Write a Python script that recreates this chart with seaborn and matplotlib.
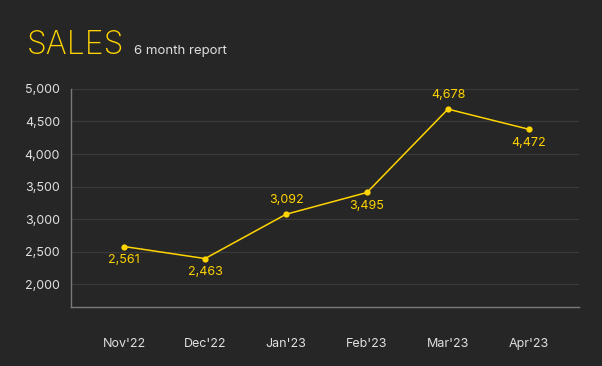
import matplotlib
matplotlib.use("Agg")
import matplotlib.pyplot as plt
import seaborn as sns
import pandas as pd
from matplotlib.ticker import FuncFormatter

# data
months = ["Nov'22", "Dec'22", "Jan'23", "Feb'23", "Mar'23", "Apr'23"]
sales = [2580, 2395, 3075, 3410, 4690, 4380]
point_labels = ["2,561", "2,463", "3,092", "3,495", "4,678", "4,472"]
label_above = [False, False, True, False, True, False]
y_ticks = [2000, 2500, 3000, 3500, 4000, 4500, 5000]

BG = "#262626"
YELLOW = "#FFD400"
TEXT = "#E0E0E0"
GRID = "#3A3A3A"

sns.set_theme(style="dark")
plt.rcParams["font.family"] = ["Inter", "DejaVu Sans"]

df = pd.DataFrame({"month": months, "sales": sales})

fig = plt.figure(figsize=(6.02, 3.66), dpi=100, facecolor=BG)
ax = fig.add_axes([0.118, 0.161, 0.844, 0.596])
ax.set_facecolor(BG)

sns.lineplot(data=df, x="month", y="sales", ax=ax, color=YELLOW, linewidth=1.1,
             marker="o", markersize=4.5, markeredgewidth=0, sort=False)

for i, (v, txt, up) in enumerate(zip(sales, point_labels, label_above)):
    ax.annotate(txt, (i, v), xytext=(0, 10 if up else -10), textcoords="offset points",
                ha="center", va="center", color=YELLOW, fontsize=9)

ax.set_xlim(-0.655, 5.62)
ax.set_ylim(1650, 5000)
ax.set_yticks(y_ticks)
ax.yaxis.set_major_formatter(FuncFormatter(lambda v, p: f"{int(v):,}"))
ax.grid(axis="y", color=GRID, linewidth=0.9)
ax.grid(axis="x", visible=False)
ax.set_xlabel("")
ax.set_ylabel("")

for side in ["top", "right"]:
    ax.spines[side].set_visible(False)
for side in ["left", "bottom"]:
    ax.spines[side].set_visible(True)
    ax.spines[side].set_color("#7A7A7A")
    ax.spines[side].set_linewidth(1)

ax.tick_params(axis="y", colors=TEXT, labelsize=9, length=0, pad=8)
ax.tick_params(axis="x", colors=TEXT, labelsize=9, length=0, pad=22)

fig.text(0.045, 0.852, "SALES", color=YELLOW, fontsize=23, fontweight="light",
         ha="left", va="baseline")
fig.text(0.222, 0.852, "6 month report", color=TEXT, fontsize=9.5, ha="left", va="baseline")

fig.savefig("out.png", dpi=100, facecolor=BG)
